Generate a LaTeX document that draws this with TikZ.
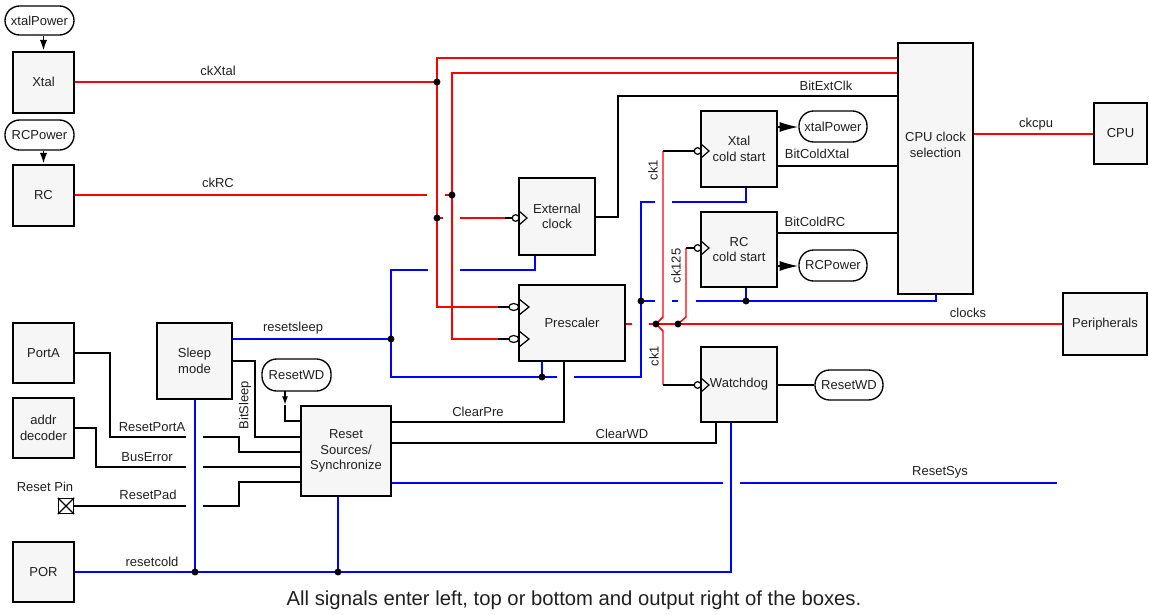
\documentclass[tikz,border=0pt]{standalone}
\usepackage{fontspec}
\setmainfont{Liberation Sans}
\usetikzlibrary{arrows.meta}
\definecolor{boxfill}{HTML}{F6F6F6}
\definecolor{sigred}{HTML}{FF0000}
\definecolor{sigblue}{HTML}{0000FF}
\newcommand\lblfont{\fontsize{9.75}{11.6}\selectfont}
\newcommand\ckbub[2]{%
  \draw[line width=0.9pt,line join=miter] (#1,#2-7) -- (#1+8,#2) -- (#1,#2+7);
  \draw[line width=0.9pt,fill=white] (#1-3.4,#2) circle[radius=2.5pt];}
\newcommand\ckbubw[2]{%
  \draw[line width=0.9pt,line join=miter] (#1,#2-8) -- (#1+10,#2) -- (#1,#2+8);
  \draw[line width=0.9pt,fill=white] (#1-5.3,#2) ellipse[x radius=3.7pt,y radius=2.6pt];}
\begin{document}
\begin{tikzpicture}[x=0.75pt,y=-0.75pt,
  blkbox/.style 2 args={draw, fill=boxfill, line width=1.5pt, align=center, inner sep=0pt,
     font=\lblfont, text=black!88, minimum width=#1*0.75pt, minimum height=#2*0.75pt},
  pill/.style 2 args={draw, fill=white, line width=1pt, rounded corners=11pt, align=center,
     inner sep=0pt, font=\lblfont, text=black!88, minimum width=#1*0.75pt, minimum height=#2*0.75pt},
  lbl/.style={font=\lblfont, inner sep=0pt, text=black!88},
  rl/.style={draw=sigred, line width=1.3pt},
  rthin/.style={draw=sigred, line width=1.1pt},
  rthick/.style={draw=sigred, line width=2.2pt},
  bll/.style={draw=sigblue, line width=1.3pt},
  kl/.style={draw=black, line width=1.2pt}]
\useasboundingbox (0,0) rectangle (1149,614);

% ---------- boxes ----------
\node[blkbox={61}{61}] (xtal) at (43.5,82) {Xtal};
\node[blkbox={61}{61}] (rc) at (43.5,195) {RC};
\node[blkbox={61}{60}] (porta) at (43.5,353) {PortA};
\node[blkbox={61}{60}] (addr) at (43.5,428) {addr\\decoder};
\node[blkbox={61}{60}] (por) at (43.5,572) {POR};
\node[blkbox={75}{76}] (sleep) at (194.5,361) {Sleep\\mode};
\node[blkbox={90}{90}] (reset) at (346,451) {Reset\\Sources/\\Synchronize};
\node[blkbox={76}{77}] (ext) at (557,216.5) {External\\clock};
\node[blkbox={106}{76}] (pre) at (572,323) {Prescaler};
\node[blkbox={76}{76}] (xcs) at (739,149) {Xtal\\cold start};
\node[blkbox={76}{75}] (rcs) at (739,249.5) {RC\\cold start};
\node[blkbox={76}{75}] (wd) at (739,384.5) {Watchdog};
\node[blkbox={75}{251}] (cpusel) at (935.5,168.5) {};
\node[lbl, align=center] (cpuselt) at (935.5,145) {CPU clock\\selection};
\node[blkbox={53}{61}] (cpu) at (1120.5,133.5) {CPU};
\node[blkbox={84}{62}] (periph) at (1105,324) {Peripherals};

% ---------- pills ----------
\node[pill={69}{29}] (xp1) at (39.5,20.5) {xtalPower};
\node[pill={69}{30}] (rcp1) at (39.5,135) {RCPower};
\node[pill={68}{31}] (xp2) at (833,126.5) {xtalPower};
\node[pill={68}{31}] (rcp2) at (833,265.5) {RCPower};
\node[pill={69}{32}] (rwd1) at (296.5,375) {ResetWD};
\node[pill={68}{30}] (rwd2) at (849,385) {ResetWD};

% ---------- reset pin ----------
\node[draw, fill=white, line width=1pt, minimum size=15*0.75pt, inner sep=0pt] (pin) at (66,506) {};
\draw[line width=0.9pt] (pin.north west) -- (pin.south east) (pin.north east) -- (pin.south west);
\node[lbl] (pinlbl) at (45,487) {Reset Pin};

% ---------- junction coordinates ----------
\coordinate (jA) at (437,82);
\coordinate (jB) at (452,195);
\coordinate (jC) at (437,218);
\coordinate (jD) at (391,339);
\coordinate (jE) at (542,377);
\coordinate (jF) at (641,301);
\coordinate (jG) at (746,301);
\coordinate (jH) at (656,324);
\coordinate (jI) at (678,324);
\coordinate (jJ) at (195,572);
\coordinate (jK) at (338,572);
\coordinate (rwdA) at (285,391);
\coordinate (rwdB) at (285,405);

% ---------- power arrows ----------
\draw[kl, -{Latex[length=8pt,width=5.5pt]}] (xtal.north |- xp1.south) -- (xtal.north);
\draw[kl, -{Latex[length=8pt,width=5.5pt]}] (rc.north |- rcp1.south) -- (rc.north);
\draw[kl, -{Latex[length=14pt,width=7.5pt]}] (xcs.east |- 0,127) -- (xp2.west |- 0,127);
\draw[kl, -{Latex[length=14pt,width=7.5pt]}] (rcs.east |- 0,266) -- (rcp2.west |- 0,266);
\draw[kl, -{Latex[length=6.5pt,width=4.5pt]}] (rwdA) -- (rwdB);
\draw[kl] (rwdB) -- (285,421) -- (reset.west |- 0,421);

% ---------- red clock lines ----------
\draw[rl] (xtal.east) -- (jA);
\node[lbl] at (218,71) {ckXtal};
\draw[rl] (rc.east) -- (427,195);
\draw[rl] (445,195) -- (jB);
\node[lbl] at (218,183) {ckRC};
\draw[rl] (cpusel.west |- 0,58) -- (437,58) -- (437,307) -- (498,307);
\draw[kl] (498,307) -- (508.5,307);
\draw[rl] (cpusel.west |- 0,73) -- (452,73) -- (452,339) -- (498,339);
\draw[kl] (498,339) -- (508.5,339);
\draw[rl] (jC) -- (443,218);
\draw[rl] (460,218) -- (505,218);
\draw[kl] (505,218) -- (513,218);
\draw[rthick] (pre.east |- 0,324) -- (632,324);
\draw[rthick] (649,324) -- (periph.west);
\node[lbl] at (968,313) {clocks};
\draw[rthin] (jH) -- (663,317) -- (663,151);
\draw[kl] (663,151) -- (694.5,151);
\draw[rthin] (jH) -- (663,331) -- (663,385);
\draw[kl] (663,385) -- (694.5,385);
\draw[rthin] (jI) -- (686,317) -- (686,248);
\draw[kl] (686,248) -- (694.5,248);
\node[lbl, rotate=90] at (653,170) {ck1};
\node[lbl, rotate=90] at (676,266) {ck125};
\node[lbl, rotate=90] at (654,356) {ck1};
\draw[rl] (cpusel.east |- 0,134) -- (cpu.west |- 0,134);
\node[lbl] at (1036,124) {ckcpu};

% ---------- black signal lines ----------
\draw[kl] (ext.east |- 0,217) -- (618,217) -- (618,96) -- (cpusel.west |- 0,96);
\node[lbl] at (826,86) {BitExtClk};
\draw[kl] (xcs.east |- 0,166) -- (cpusel.west |- 0,166);
\node[lbl] at (817,154) {BitColdXtal};
\draw[kl] (rcs.east |- 0,233) -- (cpusel.west |- 0,233);
\node[lbl] at (815,222) {BitColdRC};
\draw[kl] (pre.south -| 564,0) -- (564,422) -- (reset.east |- 0,422);
\node[lbl] at (478,412) {ClearPre};
\draw[kl] (wd.south -| 716,0) -- (716,443) -- (reset.east |- 0,443);
\node[lbl] at (622,434) {ClearWD};
\draw[kl] (wd.east |- rwd2.west) -- (rwd2.west);
\draw[kl] (sleep.east |- 0,361) -- (255,361) -- (255,437) -- (reset.west |- 0,437);
\node[lbl, rotate=90] at (245,405) {BitSleep};
\draw[kl] (porta.east) -- (110,353) -- (110,437) -- (186,437);
\draw[kl] (203,437) -- (239,437) -- (239,452) -- (reset.west |- 0,452);
\node[lbl] at (152,427) {ResetPortA};
\draw[kl] (addr.east) -- (96,428) -- (96,467) -- (186,467);
\draw[kl] (203,467) -- (reset.west |- 0,467);
\node[lbl] at (147,457) {BusError};
\draw[kl] (pin.east) -- (186,506);
\draw[kl] (203,506) -- (239,506) -- (239,482) -- (reset.west |- 0,482);
\node[lbl] at (148,495) {ResetPad};

% ---------- blue reset lines ----------
\draw[bll] (sleep.east |- jD) -- (jD);
\node[lbl] at (293,328) {resetsleep};
\draw[bll] (428,270) -- (391,270) -- (391,377) -- (557,377);
\draw[bll] (460,270) -- (535,270) -- (ext.south -| 535,0);
\draw[bll] (jE) -- (pre.south -| jE);
\draw[bll] (574,377) -- (641,377) -- (641,202) -- (655,202);
\draw[bll] (672,202) -- (746,202) -- (xcs.south -| 746,0);
\draw[bll] (jF) -- (655,301);
\draw[bll] (672,301) -- (678,301);
\draw[bll] (696,301) -- (936,301) -- (cpusel.south -| 936,0);
\draw[bll] (rcs.south -| jG) -- (jG);
\draw[bll] (por.east) -- (731,572) -- (wd.south -| 731,0);
\node[lbl] at (152,562) {resetcold};
\draw[bll] (sleep.south -| jJ) -- (jJ);
\draw[bll] (reset.south -| jK) -- (jK);
\draw[bll] (reset.east |- 0,483) -- (723,483);
\draw[bll] (740,483) -- (1057,483);
\node[lbl] at (940,472) {ResetSys};

% ---------- clock input symbols ----------
\ckbub{519}{218}
\ckbubw{519}{307}
\ckbubw{519}{339}
\ckbub{701}{151}
\ckbub{701}{248}
\ckbub{701}{385}

% ---------- junction dots ----------
\foreach \j in {jA,jB,jC,jD,jE,jF,jG,jH,jI,jJ,jK}
  \fill (\j) circle[radius=2.6pt];

% ---------- footnote ----------
\node[font=\fontsize{15.2}{18}\selectfont, text=black!88, inner sep=0pt] (note) at (574,600)
  {All signals enter left, top or bottom and output right of the boxes.};
\end{tikzpicture}
\end{document}
